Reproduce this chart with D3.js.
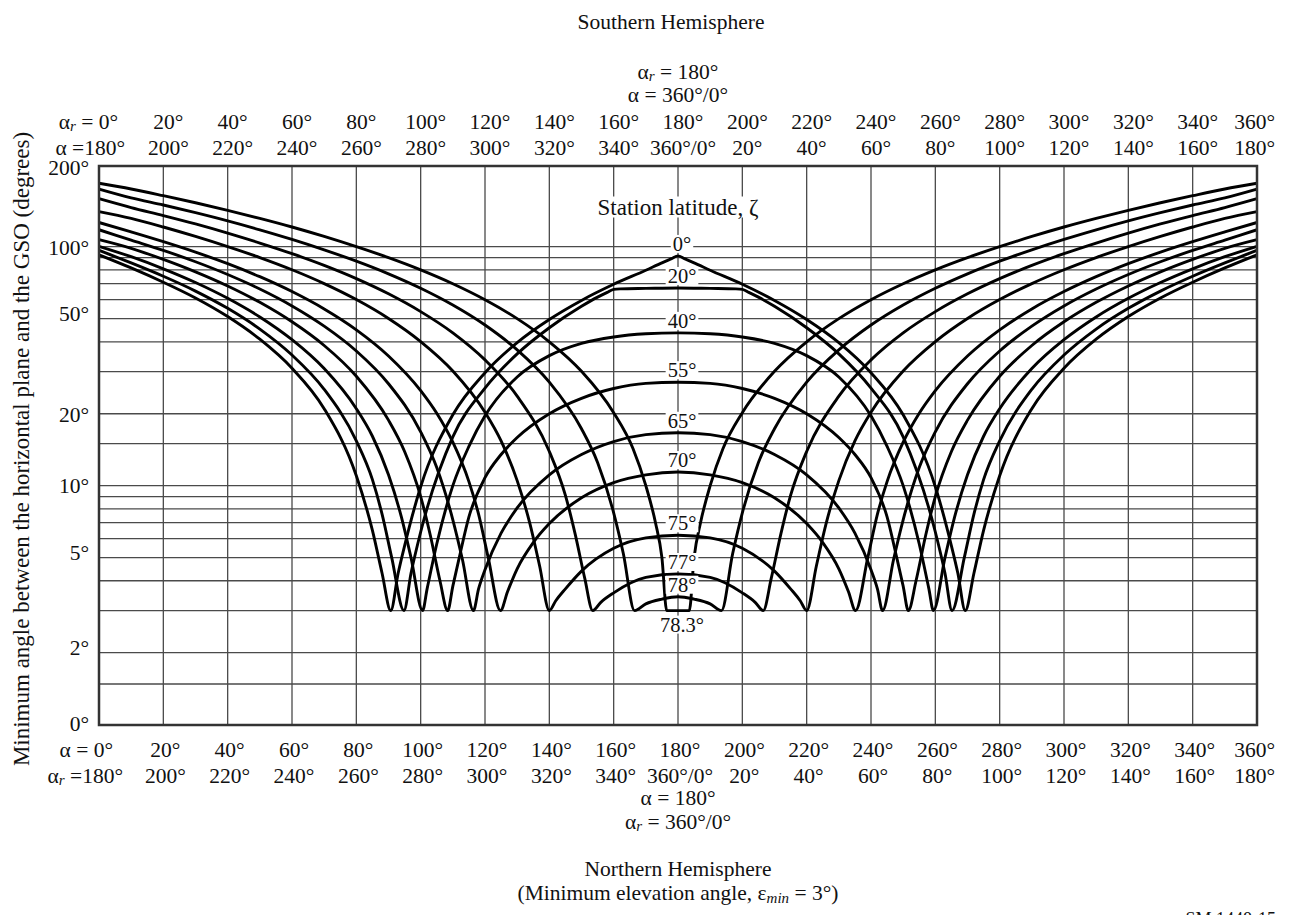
<!DOCTYPE html>
<html><head><meta charset="utf-8">
<script src="https://cdn.jsdelivr.net/npm/d3@7"></script>
<style>
body{margin:0;background:#fff;}
svg text{font-family:"Liberation Serif","Times New Roman",serif;fill:#111;}
</style></head><body>
<svg id="chart" width="1289" height="915"></svg>
<script>
// ---------------- DATA ----------------
const latitudeLabels = ["0°","20°","40°","55°","65°","70°","75°","77°","78°","78.3°"];

const az_00 = [0,10,20,30,40,50,60,70,80,85,88,90.7,93,95,100,110,120,130,140,150,160,170,175,178,180,182,185,190,200,210,220,230,240,250,260,265,267,269.3,272,275,280,290,300,310,320,330,340,350,360];
const val_00 = [92.5,81.5,71,61,51,41,31,21,11,6.5,4.3,3,4.3,5.6,9.9,19.8,29.7,39.7,49.6,59.6,69.6,79.7,85.6,89.1,91.5,89.1,85.6,79.7,69.6,59.6,49.6,39.7,29.7,19.8,9.9,5.6,4.3,3,4.3,6.5,11,21,31,41,51,61,71,81.5,92.5];

const az_20 = [0,10,20,30,40,50,60,70,80,85,88,91,94.8,97,100,110,120,130,140,150,155,158,160,162,170,180,190,198,200,202,205,210,220,230,240,250,260,263,265.2,269,272,275,280,290,300,310,320,330,340,350,360];
const val_20 = [96.5,85.5,75.2,65.2,55.2,45.2,35.2,25.3,15.4,10.6,7.6,5.0,3,4.3,6.4,16,25.6,35.6,45.8,56.3,61.5,64.4,66.3,66.6,66.9,67.2,66.9,66.6,66.3,64.4,61.5,56.3,45.8,35.6,25.6,16,6.4,4.3,3,5.0,7.6,10.6,15.4,25.3,35.2,45.2,55.2,65.2,75.2,85.5,96.5];

const az_40 = [0,10,20,30,40,50,60,70,80,85,90,94,97,100.6,102,105,110,115,120,130,140,150,160,170,180,190,200,210,220,230,240,245,250,255,258,259.4,263,266,270,275,280,290,300,310,320,330,340,350,360];
const val_40 = [100.5,90.8,80.8,70.8,60.8,50.8,40.8,30.9,21,16.1,11.1,7.4,5,3,3.7,5.7,10,14.6,19.6,28.5,35,39.4,41.9,43.2,43.6,43.2,41.9,39.4,35,28.5,19.6,14.6,10,5.7,3.7,3,5,7.4,11.1,16.1,21,30.9,40.8,50.8,60.8,70.8,80.8,90.8,100.5];

const az_55 = [0,10,20,30,40,50,60,70,80,90,95,100,103,106,108.4,110,112,115,120,125,130,140,150,160,170,180,190,200,210,220,230,235,240,245,248,250,251.6,254,257,260,265,270,280,290,300,310,320,330,340,350,360];
const val_55 = [108.8,98.5,88.5,78.5,68.5,58.5,48.5,38.6,28.7,18.8,13.9,9,6.2,4,3,3.8,5,7.4,10.8,13.5,15.9,20,23.2,25.5,26.8,27.1,26.8,25.5,23.2,20,15.9,13.5,10.8,7.4,5,3.8,3,4,6.2,9,13.9,18.8,28.7,38.6,48.5,58.5,68.5,78.5,88.5,98.5,108.8];

const az_65 = [0,10,20,30,40,50,60,70,80,90,100,105,110,113,116.4,118,120,125,130,140,150,160,170,180,190,200,210,220,230,235,240,242,243.6,247,250,255,260,270,280,290,300,310,320,330,340,350,360];
const val_65 = [121,108.2,96.5,86.5,76.5,66.5,56.5,46.5,36.6,26.7,16.8,11.9,7.2,4.9,3,3.7,4.45,6.33,8.07,11.1,13.5,15.3,16.35,16.65,16.35,15.3,13.5,11.1,8.07,6.33,4.45,3.7,3,4.9,7.2,11.9,16.8,26.7,36.6,46.5,56.5,66.5,76.5,86.5,96.5,108.2,121];

const az_70 = [0,10,20,30,40,50,60,70,80,90,100,105,110,115,118,121,124.8,127,130,135,140,150,160,170,180,190,200,210,220,225,230,233,235.2,239,242,245,250,255,260,270,280,290,300,310,320,330,340,350,360];
const val_70 = [130,118.3,106.2,94.9,84.9,74.9,64.9,54.9,44.9,34.9,25,20.1,15.2,10.4,7.6,5.0,3,3.6,4.49,5.78,6.94,8.9,10.3,11.1,11.4,11.1,10.3,8.9,6.94,5.78,4.49,3.6,3,5.0,7.6,10.4,15.2,20.1,25,34.9,44.9,54.9,64.9,74.9,84.9,94.9,106.2,118.3,130];

const az_75 = [0,10,20,30,40,50,60,70,80,90,100,110,120,125,130,134,137,140,142,145,150,160,170,180,190,200,210,215,218,220,223,226,230,235,240,250,260,270,280,290,300,310,320,330,340,350,360];
const val_75 = [143.5,135.1,124.4,112.7,100.1,90.1,80.1,70.1,60.1,50.1,40.1,30.2,20.3,15.4,10.5,6.9,4.6,3,3.3,3.7,4.39,5.47,6.05,6.2,6.05,5.47,4.39,3.7,3.3,3,4.6,6.9,10.5,15.4,20.3,30.2,40.1,50.1,60.1,70.1,80.1,90.1,100.1,112.7,124.4,135.1,143.5];

const az_77 = [0,10,20,30,40,50,60,70,80,90,100,110,120,130,140,145,148,151,153.5,156,160,170,180,190,200,204,206.5,209,212,215,220,230,240,250,260,270,280,290,300,310,320,330,340,350,360];
const val_77 = [159.5,148.5,138.6,128.2,116.8,104.5,93.5,83.5,73.5,63.5,53.5,43.6,33.6,23.7,13.9,9.1,6.3,4.1,3,3.25,3.56,4.13,4.27,4.13,3.56,3.25,3,4.1,6.3,9.1,13.9,23.7,33.6,43.6,53.5,63.5,73.5,83.5,93.5,104.5,116.8,128.2,138.6,148.5,159.5];

const az_78 = [0,10,20,30,40,50,60,70,80,90,100,110,120,130,140,150,155,160,163,166.5,170,175,180,185,190,193.5,197,200,205,210,220,230,240,250,260,270,280,290,300,310,320,330,340,350,360];
const val_78 = [171.5,160.6,151.7,142.2,132,120.9,109,97,87,77,67,57,47,37,27.1,17.3,12.5,7.7,5.2,3,3.2,3.35,3.43,3.35,3.2,3,5.2,7.7,12.5,17.3,27.1,37,47,57,67,77,87,97,109,120.9,132,142.2,151.7,160.6,171.5];

const az_783 = [0,10,20,30,40,50,60,70,80,90,100,110,120,130,140,150,160,166,170,173,175,176.5,180,183.5,185,187,190,194,200,210,220,230,240,250,260,270,280,290,300,310,320,330,340,350,360];
const val_783 = [178.6,171.5,163.2,154.5,145.1,135.1,124.4,112.7,100,90,80,70,60,50,40,30.1,20.2,14.3,10,7,5,3,3,3,5,7,10,14.3,20.2,30.1,40,50,60,70,80,90,100,112.7,124.4,135.1,145.1,154.5,163.2,171.5,178.6];

const curveAzimuths = [az_00, az_20, az_40, az_55, az_65, az_70, az_75, az_77, az_78, az_783];
const curveValues   = [val_00, val_20, val_40, val_55, val_65, val_70, val_75, val_77, val_78, val_783];

const yTickValues = [0, 2, 5, 10, 20, 50, 100, 200];
const yTickLabels = ["0°","2°","5°","10°","20°","50°","100°","200°"];
const yGridValues = [1,2,3,4,5,6,7,8,9,10,15,20,30,40,50,60,70,80,90,100];
const xTickValues = [0,20,40,60,80,100,120,140,160,180,200,220,240,260,280,300,320,340,360];
const seqA = ["0°","20°","40°","60°","80°","100°","120°","140°","160°","180°","200°","220°","240°","260°","280°","300°","320°","340°","360°"];
const seqB = ["180°","200°","220°","240°","260°","280°","300°","320°","340°","360°/0°","20°","40°","60°","80°","100°","120°","140°","160°","180°"];

// ---------------- LAYOUT ----------------
const svg = d3.select("#chart");
const L = 99, R = 1257, T = 166, B = 725;
const FS = 21.5;

const x = d3.scaleLinear().domain([0, 360]).range([L, R]);
const yLow  = d3.scaleLinear().domain([0, 1, 2]).range([B, 684, 652.7]);
const yMid  = d3.scaleLog().domain([2, 100]).range([652.7, 246.7]);
const yHigh = d3.scaleLinear().domain([100, 200]).range([246.7, T]);
const y = v => v <= 2 ? yLow(v) : (v <= 100 ? yMid(v) : yHigh(v));

const gridG = svg.append("g");
gridG.selectAll("line.h").data(yGridValues).join("line")
  .attr("x1", L).attr("x2", R).attr("y1", d => y(d)).attr("y2", d => y(d))
  .attr("stroke", "#4a4a4a").attr("stroke-width", 1.3);
gridG.selectAll("line.v").data(xTickValues.slice(1, -1)).join("line")
  .attr("x1", d => x(d)).attr("x2", d => x(d)).attr("y1", T).attr("y2", B)
  .attr("stroke", "#4a4a4a").attr("stroke-width", 1.3);

// curves
const line = d3.line().x(d => x(d[0])).y(d => y(d[1])).curve(d3.curveMonotoneX);
svg.append("g").selectAll("path").data(curveAzimuths.map((az, i) => az.map((a, j) => [a, curveValues[i][j]])))
  .join("path").attr("d", line).attr("fill", "none").attr("stroke", "#000")
  .attr("stroke-width", 2.9).attr("stroke-linejoin", "round");

// frame
svg.append("rect").attr("x", L).attr("y", T).attr("width", R - L).attr("height", B - T)
  .attr("fill", "none").attr("stroke", "#333").attr("stroke-width", 2.5);

// helper for text with white background
function labelWithBg(g, tx, ty, txt, size) {
  const t = g.append("text").attr("x", tx).attr("y", ty).attr("text-anchor", "middle")
    .attr("dominant-baseline", "central").attr("font-size", size).text(txt);
  const bb = t.node().getBBox();
  g.insert("rect", "text").attr("x", bb.x - 2).attr("y", bb.y + 2).attr("width", bb.width + 4)
    .attr("height", bb.height - 4).attr("fill", "#fff");
  return t;
}

// latitude labels (placed from dome peak values)
const labG = svg.append("g");
latitudeLabels.forEach((lab, i) => {
  const peak = d3.max(curveValues[i].filter((v, j) => curveAzimuths[i][j] === 180));
  const ly = i === latitudeLabels.length - 1 ? y(peak) + 14 : y(peak) - 12;
  labelWithBg(labG.append("g"), x(180) + 4, ly, lab, 20.5);
});
labelWithBg(labG.append("g"), x(180), 207, "Station latitude, ζ", 23);

// y tick labels (small vertical nudges as in the original drawing)
const yLabelNudge = [-1, -5, -5, 0, 1, -5, 1, 2];
svg.append("g").selectAll("text").data(yTickValues).join("text")
  .attr("x", 89).attr("y", d => y(d)).attr("dominant-baseline", "central")
  .attr("text-anchor", "end").attr("font-size", FS)
  .attr("dy", (d, i) => yLabelNudge[i])
  .text((d, i) => yTickLabels[i]);

// helper: alpha with optional subscript r
function alphaText(sel, sub, rest) {
  sel.append("tspan").text("α");
  if (sub) sel.append("tspan").attr("font-style", "italic").attr("font-size", 15).attr("dy", 4).text("r");
  sel.append("tspan").attr("dy", sub ? -4 : 0).text(rest);
}

// x tick label rows
function tickRow(yy, labels, prefixSub, prefixRest, dx) {
  const g = svg.append("g");
  labels.forEach((lab, i) => {
    const xv = x(xTickValues[i]);
    if (i === 0) {
      const t = g.append("text").attr("x", xv + dx[0]).attr("y", yy).attr("text-anchor", "end")
        .attr("dominant-baseline", "central").attr("font-size", FS);
      alphaText(t, prefixSub, prefixRest + lab);
    } else if (i === labels.length - 1) {
      g.append("text").attr("x", 1275).attr("y", yy).attr("text-anchor", "end")
        .attr("dominant-baseline", "central").attr("font-size", FS).text(lab);
    } else {
      g.append("text").attr("x", xv + dx[1]).attr("y", yy).attr("text-anchor", "middle")
        .attr("dominant-baseline", "central").attr("font-size", FS).text(lab);
    }
  });
}
tickRow(122, seqA, true, " = ", [19, 5]);
tickRow(148, seqB, false, " =", [26, 5]);
tickRow(750, seqA, false, " = ", [14, 2]);
tickRow(776, seqB, true, " =", [24, 2]);

// titles
function centerText(tx, ty, size) {
  return svg.append("text").attr("x", tx).attr("y", ty).attr("text-anchor", "middle")
    .attr("dominant-baseline", "central").attr("font-size", size);
}
centerText(671, 22, FS).text("Southern Hemisphere");
alphaText(centerText(678, 72, FS), true, " = 180°");
alphaText(centerText(678, 95, FS), false, " = 360°/0°");
alphaText(centerText(678, 798, FS), false, " = 180°");
alphaText(centerText(678, 822, FS), true, " = 360°/0°");
centerText(678, 869, FS).text("Northern Hemisphere");
const sub = centerText(678, 893, FS);
sub.append("tspan").text("(Minimum elevation angle, ε");
sub.append("tspan").attr("font-style", "italic").attr("font-size", 15).attr("dy", 5).text("min");
sub.append("tspan").attr("dy", -5).text(" = 3°)");

svg.append("text").attr("x", 1276).attr("y", 925).attr("text-anchor", "end")
  .attr("font-size", 18).text("SM.1448-15");

// y axis title
svg.append("text").attr("transform", "translate(21,449) rotate(-90)")
  .attr("text-anchor", "middle").attr("dominant-baseline", "central").attr("font-size", 23)
  .text("Minimum angle between the horizontal plane and the GSO (degrees)");
</script>
</body></html>
